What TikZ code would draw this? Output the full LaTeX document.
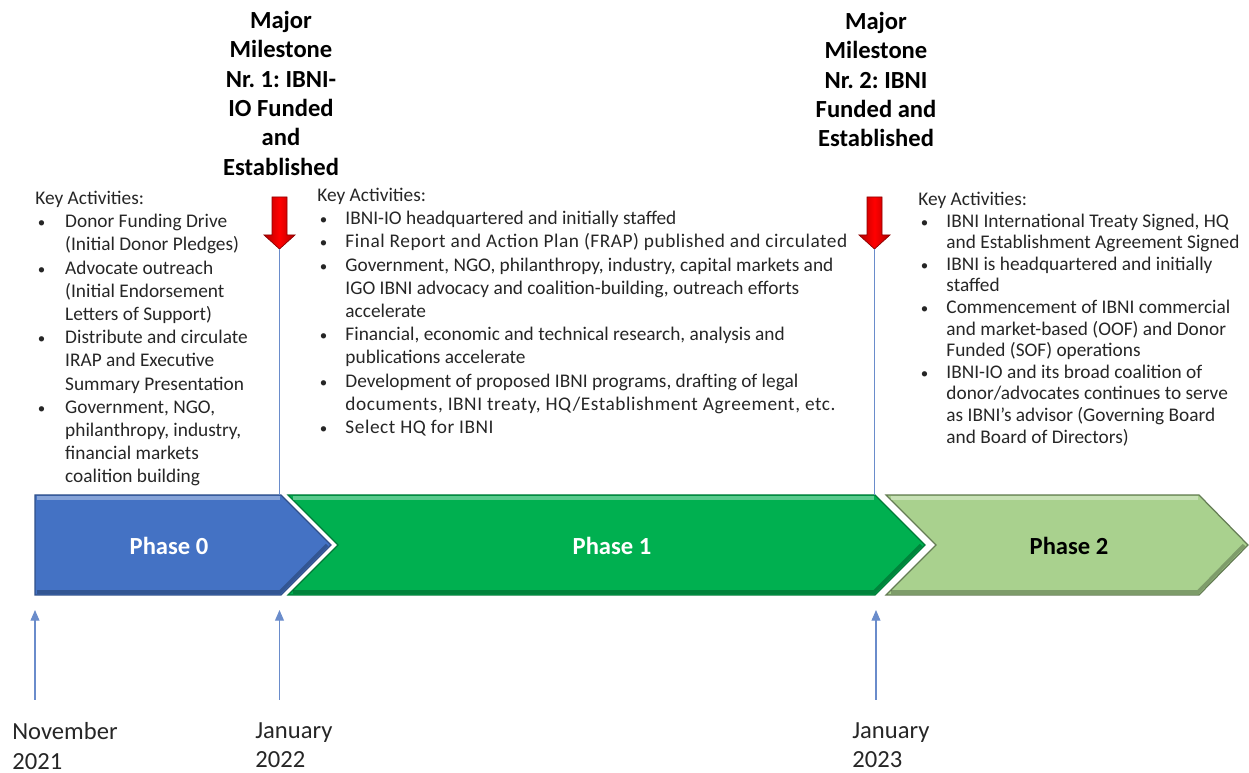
\documentclass[tikz,border=0pt]{standalone}
\usepackage{fontspec}
\setmainfont{Carlito}
\newfontfamily\widefont[LetterSpace=2.8]{Carlito}
\usetikzlibrary{arrows.meta}
\definecolor{phblue}{HTML}{4472C4}
\definecolor{phgreen}{HTML}{00B050}
\definecolor{phlight}{HTML}{A9D18E}
\definecolor{lnblue}{HTML}{6A8CCB}
\definecolor{txt}{HTML}{262626}
\newcommand{\bl}{\hspace{1.5pt}{\fontsize{8.5}{8.5}\selectfont\textbullet}}
\frenchspacing
\begin{document}
\begin{tikzpicture}[x=0.02cm,y=-0.02cm]
\tikzstyle{every node}=[inner sep=0pt,text=txt]
\tikzstyle{plabel}=[font=\fontsize{14}{16}\selectfont\bfseries]
\tikzstyle{mstone}=[anchor=north,align=center,font=\fontsize{14}{16.7}\selectfont\bfseries,text=black]
\tikzstyle{keyact}=[anchor=north west,font=\fontsize{11}{13}\selectfont]
\tikzstyle{date}=[anchor=north west,align=left,font=\fontsize{14}{17}\selectfont]
\tikzstyle{redarr}=[draw=red!55!black,line width=0.4pt,left color=red!70!black,right color=red!70!black,middle color=red]
\tikzstyle{msline}=[lnblue,line width=0.6pt]
\tikzstyle{tick}=[lnblue,line width=0.6pt,-{Triangle[width=5pt,length=6pt]}]
\tikzstyle{hilite}=[white,opacity=0.35,line width=2pt]
\tikzstyle{shade}=[black,opacity=0.25,line width=2pt]
\useasboundingbox (0,0) rectangle (1249,773);
% phases
\draw[fill=phblue,draw=phblue!70!black,line width=0.7pt] (35,495) -- (281,495) -- (331,545) -- (281,595) -- (35,595) -- cycle;
\draw[fill=phgreen,draw=phgreen!70!black,line width=0.7pt] (288,495) -- (875,495) -- (925,545) -- (875,595) -- (288,595) -- (338,545) -- cycle;
\draw[fill=phlight,draw=phlight!60!black,line width=0.7pt] (886,495) -- (1199,495) -- (1248,545) -- (1199,595) -- (886,595) -- (936,545) -- cycle;
\draw[hilite] (37,498) -- (280,498);
\draw[hilite] (293,498) -- (874,498);
\draw[hilite] (891,498) -- (1198,498);
\draw[shade] (37,592) -- (280,592) -- (327,545);
\draw[shade] (293,592) -- (874,592) -- (921,545);
\draw[shade] (891,592) -- (1198,592) -- (1244,545);
\node[plabel,text=white](ph0) at (169,546) {Phase 0};
\node[plabel,text=white](ph1) at (612,546) {Phase 1};
\node[plabel,text=black](ph2) at (1069,546) {Phase 2};
% milestones
\node[mstone](ms1) at (281,11) {Major\\Milestone\\Nr. 1: IBNI-\\IO Funded\\and\\Established};
\node[mstone](ms2) at (876,12) {Major\\Milestone\\Nr. 2: IBNI\\Funded and\\Established};
\draw[redarr] (272,197) -- (287,197) -- (287,235) -- (295,235) -- (279.5,249) -- (264,235) -- (272,235) -- cycle;
\draw[redarr] (867,197) -- (882,197) -- (882,235) -- (890,235) -- (874.5,249) -- (859,235) -- (867,235) -- cycle;
\coordinate (tip1) at (279.5,249);
\coordinate (tip2) at (874.5,249);
\coordinate (top1) at (279.5,495);
\coordinate (top2) at (874.5,495);
\draw[msline] (tip1) -- (top1);
\draw[msline] (tip2) -- (top2);
% key activities
\node[keyact,font=\fontsize{11}{13.2}\selectfont](ka0) at (35,188) {\begin{tabular}{@{}p{17pt}@{}l@{}}
\multicolumn{2}{@{}l@{}}{Key Activities:}\\
\bl & Donor Funding Drive\\
 & (Initial Donor Pledges)\\
\bl & Advocate outreach\\
 & (Initial Endorsement\\
 & Letters of Support)\\
\bl & Distribute and circulate\\
 & IRAP and Executive\\
 & Summary Presentation\\
\bl & Government, NGO,\\
 & philanthropy, industry,\\
 & financial markets\\
 & coalition building
\end{tabular}};
\node[keyact,font=\fontsize{11}{13.2}\selectfont](ka1) at (317,185) {\begin{tabular}{@{}p{16pt}@{}l@{}}
\multicolumn{2}{@{}l@{}}{Key Activities:}\\
\bl & IBNI-IO headquartered and initially staffed\\
\bl & {\widefont Final Report and Action Plan (FRAP) published and circulated}\\
\bl & Government, NGO, philanthropy, industry, capital markets and\\
 & IGO IBNI advocacy and coalition-building, outreach efforts\\
 & accelerate\\
\bl & Financial, economic and technical research, analysis and\\
 & publications accelerate\\
\bl & Development of proposed IBNI programs, drafting of legal\\
 & {\widefont documents, IBNI treaty, HQ/Establishment Agreement, etc.}\\
\bl & {\widefont Select HQ for IBNI}
\end{tabular}};
\node[keyact,font=\fontsize{11}{12.3}\selectfont](ka2) at (918,190) {\begin{tabular}{@{}p{16pt}@{}l@{}}
\multicolumn{2}{@{}l@{}}{Key Activities:}\\
\bl & IBNI International Treaty Signed, HQ\\
 & and Establishment Agreement Signed\\
\bl & IBNI is headquartered and initially\\
 & staffed\\
\bl & Commencement of IBNI commercial\\
 & and market-based (OOF) and Donor\\
 & Funded (SOF) operations\\
\bl & IBNI-IO and its broad coalition of\\
 & donor/advocates continues to serve\\
 & as IBNI’s advisor (Governing Board\\
 & and Board of Directors)
\end{tabular}};
% dates
\node[date](d0) at (12,722) {November\\2021};
\node[date](d1) at (255,722) {January\\2022};
\node[date](d2) at (852,722) {January\\2023};
\coordinate (tb0) at (35,700);
\coordinate (tb1) at (279.5,700);
\coordinate (tb2) at (876,700);
\coordinate (tt0) at (35,610);
\coordinate (tt1) at (279.5,610);
\coordinate (tt2) at (876,610);
\draw[tick] (tb0) -- (tt0);
\draw[tick] (tb1) -- (tt1);
\draw[tick] (tb2) -- (tt2);
\end{tikzpicture}
\end{document}
